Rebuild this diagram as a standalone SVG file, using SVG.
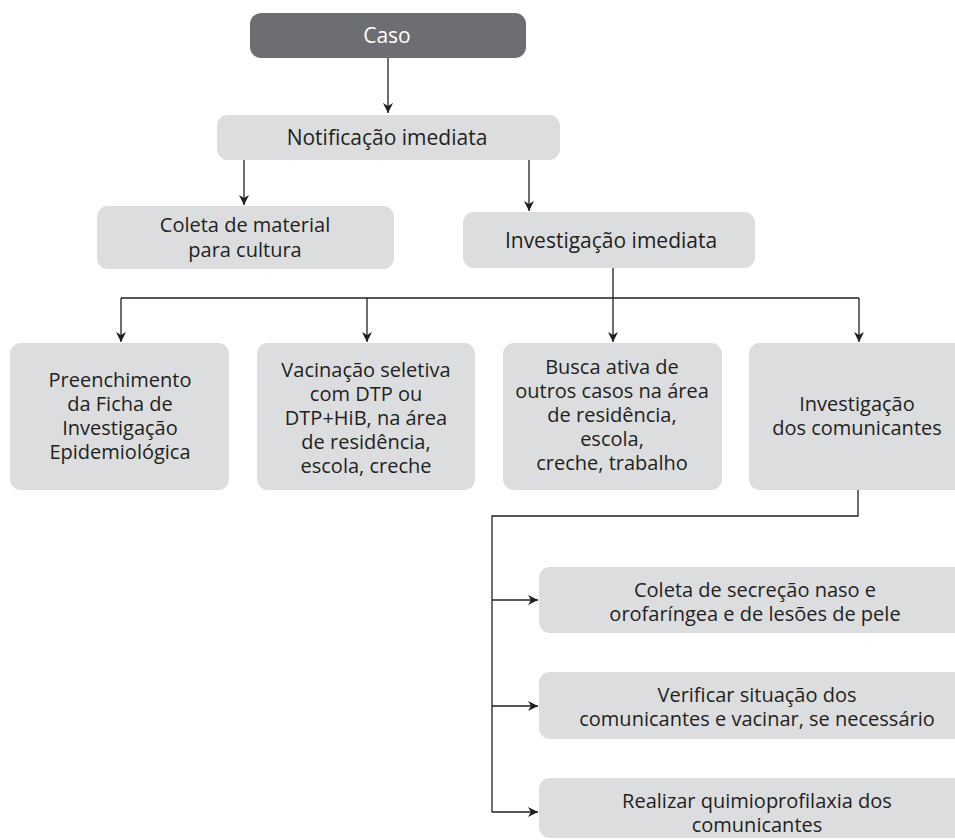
<svg xmlns="http://www.w3.org/2000/svg" width="955" height="840" viewBox="0 0 955 840">
<style>
.box{fill:#dcdddf}
.dark{fill:#6d6e71}
text{font-family:"Open Sans","Liberation Sans",sans-serif;font-size:20px;fill:#231f20;text-anchor:middle}
.big{font-size:21px}
.w{fill:#ffffff}
.ln{fill:none;stroke:#231f20;stroke-width:1.3}
</style>
<defs>
<marker id="ah" viewBox="0 0 10 10" refX="10" refY="5" markerWidth="10" markerHeight="10" markerUnits="userSpaceOnUse" orient="auto">
<path d="M0,0 L10,5 L0,10 L3,5 z" fill="#231f20"/>
</marker>
</defs>
<g id="connectors">
<path class="ln" d="M388,58 V113" marker-end="url(#ah)"/>
<path class="ln" d="M244,160 V205" marker-end="url(#ah)"/>
<path class="ln" d="M529,160 V211" marker-end="url(#ah)"/>
<path class="ln" d="M613,268 V298 M121,298 H859"/>
<path class="ln" d="M121,298 V342" marker-end="url(#ah)"/>
<path class="ln" d="M367,298 V342" marker-end="url(#ah)"/>
<path class="ln" d="M613,298 V342" marker-end="url(#ah)"/>
<path class="ln" d="M859,298 V342" marker-end="url(#ah)"/>
<path class="ln" d="M858,490 V516 H492 V812"/>
<path class="ln" d="M492,600 H538" marker-end="url(#ah)"/>
<path class="ln" d="M492,706 H538" marker-end="url(#ah)"/>
<path class="ln" d="M492,812 H538" marker-end="url(#ah)"/>
</g>
<g id="caso">
<rect class="dark" x="250" y="13" width="276" height="45" rx="11"/>
<text class="w big" x="387" y="43">Caso</text>
</g>
<g id="notificacao">
<rect class="box" x="217" y="115" width="343" height="45" rx="11"/>
<text class="big" x="387" y="145">Notificação imediata</text>
</g>
<g id="coleta">
<rect class="box" x="97" y="206" width="297" height="63" rx="11"/>
<text x="245" y="232">Coleta de material</text>
<text x="245" y="257">para cultura</text>
</g>
<g id="investigacao">
<rect class="box" x="463" y="212" width="292" height="56" rx="11"/>
<text class="big" x="611" y="248">Investigação imediata</text>
</g>
<g id="preenchimento">
<rect class="box" x="10" y="343" width="219" height="147" rx="11"/>
<text x="120" y="387">Preenchimento</text>
<text x="120" y="411">da Ficha de</text>
<text x="120" y="435">Investigação</text>
<text x="120" y="459">Epidemiológica</text>
</g>
<g id="vacinacao">
<rect class="box" x="257" y="343" width="218" height="147" rx="11"/>
<text x="366" y="377">Vacinação seletiva</text>
<text x="366" y="401">com DTP ou</text>
<text x="366" y="425">DTP+HiB, na área</text>
<text x="366" y="449">de residência,</text>
<text x="366" y="473">escola, creche</text>
</g>
<g id="busca">
<rect class="box" x="503" y="343" width="219" height="147" rx="11"/>
<text x="612" y="374">Busca ativa de</text>
<text x="612" y="398">outros casos na área</text>
<text x="612" y="422">de residência,</text>
<text x="612" y="446">escola,</text>
<text x="612" y="470">creche, trabalho</text>
</g>
<g id="comunicantes">
<rect class="box" x="749" y="343" width="220" height="147" rx="11"/>
<text x="857" y="411">Investigação</text>
<text x="857" y="435">dos comunicantes</text>
</g>
<g id="coleta-secrecao">
<rect class="box" x="539" y="567" width="430" height="66" rx="11"/>
<text x="755" y="597">Coleta de secreção naso e</text>
<text x="755" y="621">orofaríngea e de lesões de pele</text>
</g>
<g id="verificar">
<rect class="box" x="539" y="672" width="430" height="67" rx="11"/>
<text x="757" y="702">Verificar situação dos</text>
<text x="757" y="726">comunicantes e vacinar, se necessário</text>
</g>
<g id="quimioprofilaxia">
<rect class="box" x="539" y="778" width="430" height="60" rx="11"/>
<text x="757" y="808">Realizar quimioprofilaxia dos</text>
<text x="757" y="832">comunicantes</text>
</g>
</svg>
